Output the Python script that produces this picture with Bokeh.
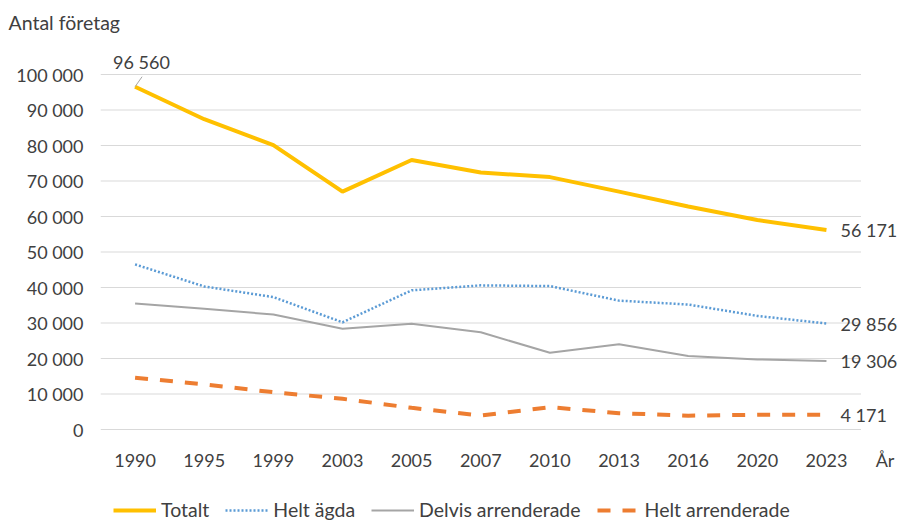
from bokeh.plotting import figure
from bokeh.layouts import column
from bokeh.models import Range1d, FixedTicker, Label, Legend, LegendItem
from bokeh.embed import file_html
from bokeh.resources import INLINE

years = ["1990", "1995", "1999", "2003", "2005", "2007", "2010", "2013", "2016", "2020", "2023"]
totalt = [96560, 87400, 80100, 67000, 75900, 72400, 71100, 67000, 62800, 59000, 56171]
helt_agda = [46500, 40300, 37300, 30200, 39200, 40600, 40400, 36300, 35200, 32000, 29856]
delvis = [35500, 34000, 32400, 28400, 29800, 27400, 21600, 24000, 20700, 19750, 19306]
helt_arr = [14600, 12700, 10500, 8650, 6100, 3950, 6300, 4600, 3900, 4150, 4171]
y_ticks = [0, 10000, 20000, 30000, 40000, 50000, 60000, 70000, 80000, 90000, 100000]
y_tick_labels = ["0", "10 000", "20 000", "30 000", "40 000", "50 000",
                 "60 000", "70 000", "80 000", "90 000", "100 000"]
end_labels = ["56 171", "29 856", "19 306", "4 171"]
first_label = "96 560"
series_names = ["Totalt", "Helt ägda", "Delvis arrenderade", "Helt arrenderade"]

FONT = "Lato"
TXT = "#404040"
W, H = 898, 522
H_MAIN, H_LEG = 490, 32

# layout (pixels)
FR_L, FR_T, FR_B = 100.45, 40, 430
CAT_PX = 69.1
Y0_PX, Y100_PX = 429, 74

n = len(years)
xs = list(range(n))
all_series = [totalt, helt_agda, delvis, helt_arr]
u_per_px = y_ticks[-1] / (Y0_PX - Y100_PX)
y_lo = -(FR_B - Y0_PX) * u_per_px
y_hi = (Y0_PX - FR_T) * u_per_px
x_hi = (W - FR_L) / CAT_PX - 0.5

styles = [dict(line_color="#FFC000", line_width=4),
          dict(line_color="#5B9BD5", line_width=2.5, line_dash="2 2"),
          dict(line_color="#A5A5A5", line_width=2),
          dict(line_color="#ED7D31", line_width=4, line_dash="13 12")]

p = figure(width=W, height=H_MAIN, output_backend="svg", toolbar_location=None,
           x_range=Range1d(-0.5, x_hi), y_range=Range1d(y_lo, y_hi),
           min_border_left=100, min_border_right=0, min_border_top=FR_T,
           min_border_bottom=H_MAIN - FR_B)
p.outline_line_color = None
p.xgrid.visible = False
p.ygrid.visible = False

# horizontal gridlines limited to the category span
p.segment(x0=[-0.5] * len(y_ticks), y0=y_ticks, x1=[n - 0.5] * len(y_ticks), y1=y_ticks,
          line_color="#D9D9D9", line_width=1)

ar_x = n - 0.5 + 24 / CAT_PX
p.xaxis.ticker = FixedTicker(ticks=xs + [ar_x])
ov = {i: y for i, y in enumerate(years)}
ov[ar_x] = "År"
p.xaxis.major_label_overrides = ov
p.yaxis.ticker = FixedTicker(ticks=y_ticks)
p.yaxis.major_label_overrides = {t: l for t, l in zip(y_ticks, y_tick_labels)}
for ax in (p.xaxis, p.yaxis):
    ax.axis_line_color = None
    ax.major_tick_line_color = None
    ax.minor_tick_line_color = None
    ax.major_tick_out = 0
    ax.major_tick_in = 0
    ax.major_label_text_font = FONT
    ax.major_label_text_font_size = "18px"
    ax.major_label_text_color = TXT
p.xaxis.major_label_standoff = 18
p.yaxis.major_label_standoff = 17

for ser, st in zip(all_series, styles):
    p.line(xs, ser, **st)

# leader line for first value label
p.segment(x0=[xs[0]], y0=[totalt[0]], x1=[xs[0] + 7 / CAT_PX],
          y1=[totalt[0] + 10 * u_per_px], line_color="#A6A6A6", line_width=1)

p.add_layout(Label(x=xs[0], y=totalt[0], text=first_label, x_offset=-22, y_offset=25,
                   text_font=FONT, text_font_size="18px", text_color=TXT,
                   text_baseline="middle"))
for ser, lab in zip(all_series, end_labels):
    p.add_layout(Label(x=xs[-1], y=ser[-1], text=lab, x_offset=14, y_offset=0,
                       text_font=FONT, text_font_size="18px", text_color=TXT,
                       text_baseline="middle"))

p.title.text = "Antal företag"
p.title.align = "left"
p.title.offset = -92
p.title.text_font = FONT
p.title.text_font_size = "19.5px"
p.title.text_font_style = "normal"
p.title.text_color = TXT
p.title.standoff = 13

# legend strip (series drawn off-range so only the legend shows)
pl = figure(width=W, height=H_LEG, output_backend="svg", toolbar_location=None,
            x_axis_type=None, y_axis_type=None, min_border=0,
            x_range=Range1d(-0.5, x_hi), y_range=Range1d(-2, -1))
pl.outline_line_color = None
pl.xgrid.visible = False
pl.ygrid.visible = False
items = []
for name, ser, st in zip(series_names, all_series, styles):
    r = pl.line(xs, ser, **st)
    items.append(LegendItem(label=name, renderers=[r]))
legend = Legend(items=items, orientation="horizontal", location=(13, 1),
                border_line_color=None, background_fill_alpha=0,
                padding=0, margin=0, spacing=16, label_standoff=5,
                glyph_width=43, glyph_height=20, label_height=20,
                label_text_font=FONT, label_text_font_size="19.5px",
                label_text_color=TXT)
pl.add_layout(legend, "center")

open("out.html", "w").write(file_html(column(p, pl, spacing=0), INLINE))
